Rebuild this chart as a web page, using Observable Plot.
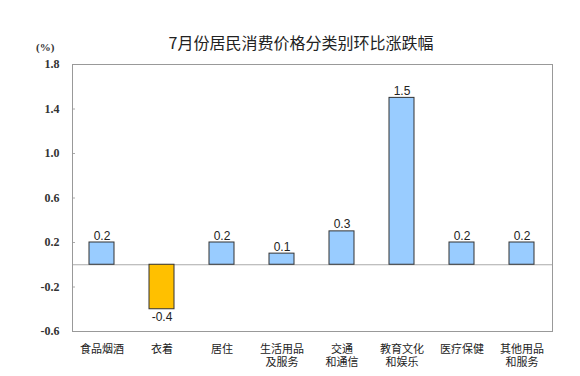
<!DOCTYPE html>
<html><head><meta charset="utf-8">
<script src="https://cdn.jsdelivr.net/npm/d3@7"></script>
<script src="https://cdn.jsdelivr.net/npm/@observablehq/plot@0.6"></script>
<style>
body{margin:0;background:#fff;}
#wrap{position:relative;width:580px;height:376px;}
#title{position:absolute;left:0;width:580px;top:30px;text-align:center;font:16px "Noto Sans CJK SC",sans-serif;color:#222;padding-left:22px;box-sizing:border-box;}
#unit{position:absolute;left:36px;top:41px;font:bold 11px "Liberation Serif",serif;color:#333;}
</style></head><body>
<div id="wrap"><div id="title">7月份居民消费价格分类别环比涨跌幅</div><div id="unit">(%)</div><div id="chart"></div></div>
<script>
const categories = ["食品烟酒","衣着","居住","生活用品及服务","交通和通信","教育文化和娱乐","医疗保健","其他用品和服务"];
const tickLabels = ["食品烟酒","衣着","居住","生活用品\n及服务","交通\n和通信","教育文化\n和娱乐","医疗保健","其他用品\n和服务"];
const values = [0.2,-0.4,0.2,0.1,0.3,1.5,0.2,0.2];
const yTicks = [-0.6,-0.2,0.2,0.6,1.0,1.4,1.8];

const data = categories.map((c,i)=>({cat:c, v:values[i]}));
const labelOf = new Map(categories.map((c,i)=>[c,tickLabels[i]]));
const pos = data.filter(d=>d.v>=0), neg = data.filter(d=>d.v<0);

const chart = Plot.plot({
  width:580, height:376,
  marginLeft:72, marginRight:28, marginTop:64, marginBottom:45,
  style:{background:"transparent"},
  x:{domain:categories, paddingInner:0.58, paddingOuter:0.29, label:null},
  y:{domain:[-0.6,1.8], label:null},
  marks:[
    Plot.axisY({ticks:yTicks, tickSize:0, tickPadding:13, tickFormat:d=>d.toFixed(1), fontFamily:"Liberation Serif", fontWeight:"bold", fontSize:12, fill:"#333", label:null}),
    Plot.ruleY(yTicks, {stroke:"#aaa", insetRight:477}),
    Plot.axisX({tickSize:0, tickPadding:12, tickFormat:d=>labelOf.get(d), fontSize:11, fontFamily:"Noto Sans CJK SC", fill:"#222", lineHeight:1.22, label:null}),
    Plot.ruleY([0], {stroke:"#aaa"}),
    Plot.barY(data, {x:"cat", y:"v", fill:d=>d.v<0?"#FFC000":"#99CCFF", stroke:"#333", strokeWidth:1}),
    Plot.text(pos, {x:"cat", y:"v", text:d=>d.v.toFixed(1), dy:-3, lineAnchor:"bottom", fontSize:12, fontFamily:"Liberation Sans", fill:"#222"}),
    Plot.text(neg, {x:"cat", y:"v", text:d=>d.v.toFixed(1), dy:3, lineAnchor:"top", fontSize:12, fontFamily:"Liberation Sans", fill:"#222"}),
    Plot.frame({stroke:"#999"})
  ]
});
document.getElementById("chart").appendChild(chart);
</script>
</body></html>
